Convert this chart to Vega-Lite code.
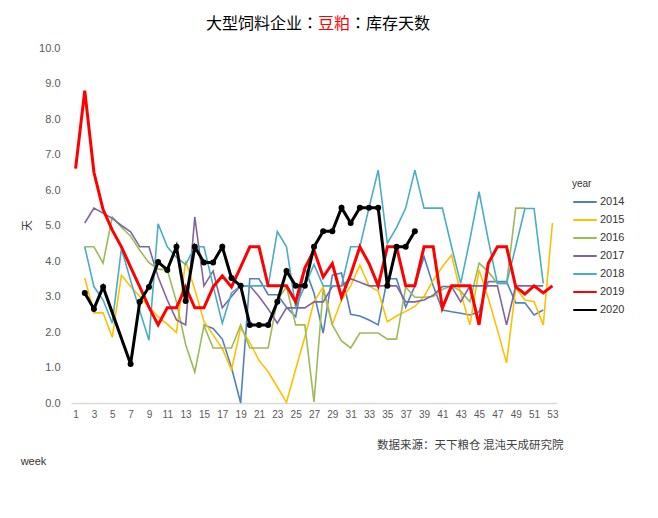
{
"$schema":"https://vega.github.io/schema/vega-lite/v6.json",
"autosize":{"type":"none"},
"width":486,"height":355,
"padding":{"left":71,"top":48,"right":101,"bottom":115},
"background":"white",
"title":{"text":"大型饲料企业：　　：库存天数","subtitle":"\u200b　　豆粕\u200b","font":"Noto Sans CJK TC","fontSize":16,"fontWeight":"normal","color":"#000000","subtitleFont":"Noto Sans CJK TC","subtitleFontSize":16,"subtitleFontWeight":"normal","subtitleColor":"#FF0000","subtitlePadding":-16,"anchor":"middle","offset":10,"dx":4},
"config":{"view":{"stroke":null},"axis":{"grid":false,"ticks":false,"labelFont":"Liberation Sans","labelColor":"#595959"}},
"datasets":{"d":[
{"year":"2014","week":15,"days":2.2},{"year":"2014","week":16,"days":2.1},{"year":"2014","week":17,"days":1.8},{"year":"2014","week":18,"days":1.0},{"year":"2014","week":19,"days":0.0},{"year":"2014","week":20,"days":3.5},{"year":"2014","week":21,"days":3.5},{"year":"2014","week":22,"days":3.05},{"year":"2014","week":23,"days":3.05},{"year":"2014","week":24,"days":2.7},{"year":"2014","week":25,"days":2.43},{"year":"2014","week":26,"days":3.8},{"year":"2014","week":27,"days":3.1},{"year":"2014","week":28,"days":1.97},{"year":"2014","week":29,"days":3.6},{"year":"2014","week":30,"days":3.66},{"year":"2014","week":31,"days":2.5},{"year":"2014","week":32,"days":2.45},{"year":"2014","week":33,"days":2.34},{"year":"2014","week":34,"days":2.2},{"year":"2014","week":35,"days":3.5},{"year":"2014","week":36,"days":3.5},{"year":"2014","week":37,"days":2.7},{"year":"2014","week":38,"days":3.3},{"year":"2014","week":39,"days":4.12},{"year":"2014","week":40,"days":3.3},{"year":"2014","week":41,"days":2.62},{"year":"2014","week":42,"days":2.57},{"year":"2014","week":43,"days":2.53},{"year":"2014","week":44,"days":2.48},{"year":"2014","week":45,"days":2.57},{"year":"2014","week":46,"days":3.42},{"year":"2014","week":47,"days":3.42},{"year":"2014","week":48,"days":3.42},{"year":"2014","week":49,"days":2.82},{"year":"2014","week":50,"days":2.82},{"year":"2014","week":51,"days":2.48},{"year":"2014","week":52,"days":2.62},
{"year":"2015","week":2,"days":3.52},{"year":"2015","week":3,"days":2.54},{"year":"2015","week":4,"days":2.54},{"year":"2015","week":5,"days":1.85},{"year":"2015","week":6,"days":3.6},{"year":"2015","week":7,"days":3.28},{"year":"2015","week":8,"days":3.0},{"year":"2015","week":9,"days":2.71},{"year":"2015","week":10,"days":2.43},{"year":"2015","week":11,"days":2.22},{"year":"2015","week":12,"days":1.98},{"year":"2015","week":13,"days":4.0},{"year":"2015","week":14,"days":3.2},{"year":"2015","week":15,"days":2.3},{"year":"2015","week":16,"days":1.92},{"year":"2015","week":17,"days":1.53},{"year":"2015","week":18,"days":0.93},{"year":"2015","week":19,"days":2.12},{"year":"2015","week":20,"days":1.7},{"year":"2015","week":21,"days":1.2},{"year":"2015","week":22,"days":0.88},{"year":"2015","week":23,"days":0.45},{"year":"2015","week":24,"days":0.02},{"year":"2015","week":25,"days":0.95},{"year":"2015","week":26,"days":1.86},{"year":"2015","week":27,"days":2.85},{"year":"2015","week":28,"days":3.27},{"year":"2015","week":29,"days":2.22},{"year":"2015","week":30,"days":2.9},{"year":"2015","week":31,"days":3.3},{"year":"2015","week":32,"days":3.88},{"year":"2015","week":33,"days":3.3},{"year":"2015","week":34,"days":3.15},{"year":"2015","week":35,"days":2.29},{"year":"2015","week":36,"days":2.45},{"year":"2015","week":37,"days":2.58},{"year":"2015","week":38,"days":2.72},{"year":"2015","week":39,"days":3.0},{"year":"2015","week":40,"days":3.46},{"year":"2015","week":41,"days":3.84},{"year":"2015","week":42,"days":4.17},{"year":"2015","week":43,"days":3.1},{"year":"2015","week":44,"days":2.2},{"year":"2015","week":45,"days":3.75},{"year":"2015","week":46,"days":2.96},{"year":"2015","week":47,"days":2.06},{"year":"2015","week":48,"days":1.13},{"year":"2015","week":49,"days":3.24},{"year":"2015","week":50,"days":2.9},{"year":"2015","week":51,"days":2.85},{"year":"2015","week":52,"days":2.2},{"year":"2015","week":53,"days":5.07},
{"year":"2016","week":2,"days":4.4},{"year":"2016","week":3,"days":4.4},{"year":"2016","week":4,"days":3.94},{"year":"2016","week":5,"days":5.24},{"year":"2016","week":6,"days":4.95},{"year":"2016","week":7,"days":4.7},{"year":"2016","week":8,"days":4.3},{"year":"2016","week":9,"days":3.95},{"year":"2016","week":10,"days":3.77},{"year":"2016","week":11,"days":3.75},{"year":"2016","week":12,"days":2.85},{"year":"2016","week":13,"days":1.65},{"year":"2016","week":14,"days":0.87},{"year":"2016","week":15,"days":2.18},{"year":"2016","week":16,"days":1.55},{"year":"2016","week":17,"days":1.55},{"year":"2016","week":18,"days":1.55},{"year":"2016","week":19,"days":2.2},{"year":"2016","week":20,"days":1.55},{"year":"2016","week":21,"days":1.55},{"year":"2016","week":22,"days":1.55},{"year":"2016","week":23,"days":2.9},{"year":"2016","week":24,"days":3.27},{"year":"2016","week":25,"days":2.2},{"year":"2016","week":26,"days":2.2},{"year":"2016","week":27,"days":0.03},{"year":"2016","week":28,"days":3.2},{"year":"2016","week":29,"days":2.2},{"year":"2016","week":30,"days":1.75},{"year":"2016","week":31,"days":1.55},{"year":"2016","week":32,"days":1.97},{"year":"2016","week":33,"days":1.97},{"year":"2016","week":34,"days":1.97},{"year":"2016","week":35,"days":1.8},{"year":"2016","week":36,"days":1.8},{"year":"2016","week":37,"days":3.26},{"year":"2016","week":38,"days":2.98},{"year":"2016","week":39,"days":2.98},{"year":"2016","week":40,"days":3.0},{"year":"2016","week":41,"days":3.2},{"year":"2016","week":42,"days":3.3},{"year":"2016","week":43,"days":3.15},{"year":"2016","week":44,"days":2.85},{"year":"2016","week":45,"days":3.94},{"year":"2016","week":46,"days":3.7},{"year":"2016","week":47,"days":3.37},{"year":"2016","week":48,"days":3.37},{"year":"2016","week":49,"days":5.49},{"year":"2016","week":50,"days":5.49},
{"year":"2017","week":2,"days":5.07},{"year":"2017","week":3,"days":5.49},{"year":"2017","week":4,"days":5.35},{"year":"2017","week":5,"days":5.2},{"year":"2017","week":6,"days":5.0},{"year":"2017","week":7,"days":4.82},{"year":"2017","week":8,"days":4.4},{"year":"2017","week":9,"days":4.4},{"year":"2017","week":10,"days":3.55},{"year":"2017","week":11,"days":2.9},{"year":"2017","week":12,"days":2.34},{"year":"2017","week":13,"days":2.2},{"year":"2017","week":14,"days":5.24},{"year":"2017","week":15,"days":3.3},{"year":"2017","week":16,"days":3.72},{"year":"2017","week":17,"days":2.68},{"year":"2017","week":18,"days":3.0},{"year":"2017","week":19,"days":3.3},{"year":"2017","week":20,"days":3.3},{"year":"2017","week":21,"days":3.0},{"year":"2017","week":22,"days":2.65},{"year":"2017","week":23,"days":2.25},{"year":"2017","week":24,"days":2.68},{"year":"2017","week":25,"days":2.68},{"year":"2017","week":26,"days":2.68},{"year":"2017","week":27,"days":2.85},{"year":"2017","week":28,"days":2.85},{"year":"2017","week":29,"days":3.28},{"year":"2017","week":30,"days":3.3},{"year":"2017","week":31,"days":3.5},{"year":"2017","week":32,"days":3.4},{"year":"2017","week":33,"days":3.3},{"year":"2017","week":34,"days":3.3},{"year":"2017","week":35,"days":3.3},{"year":"2017","week":36,"days":3.3},{"year":"2017","week":37,"days":2.85},{"year":"2017","week":38,"days":2.85},{"year":"2017","week":39,"days":2.9},{"year":"2017","week":40,"days":3.04},{"year":"2017","week":41,"days":3.28},{"year":"2017","week":42,"days":3.28},{"year":"2017","week":43,"days":2.85},{"year":"2017","week":44,"days":3.3},{"year":"2017","week":45,"days":3.3},{"year":"2017","week":46,"days":3.3},{"year":"2017","week":47,"days":3.3},{"year":"2017","week":48,"days":2.2},{"year":"2017","week":49,"days":3.3},{"year":"2017","week":50,"days":3.3},{"year":"2017","week":51,"days":3.3},{"year":"2017","week":52,"days":3.3},
{"year":"2018","week":2,"days":4.4},{"year":"2018","week":3,"days":3.28},{"year":"2018","week":4,"days":2.9},{"year":"2018","week":5,"days":2.25},{"year":"2018","week":6,"days":4.35},{"year":"2018","week":7,"days":3.45},{"year":"2018","week":8,"days":2.6},{"year":"2018","week":9,"days":1.77},{"year":"2018","week":10,"days":5.05},{"year":"2018","week":11,"days":4.4},{"year":"2018","week":12,"days":4.1},{"year":"2018","week":13,"days":3.9},{"year":"2018","week":14,"days":4.4},{"year":"2018","week":15,"days":4.4},{"year":"2018","week":16,"days":3.3},{"year":"2018","week":17,"days":2.25},{"year":"2018","week":18,"days":3.1},{"year":"2018","week":19,"days":3.3},{"year":"2018","week":20,"days":3.3},{"year":"2018","week":21,"days":3.3},{"year":"2018","week":22,"days":3.3},{"year":"2018","week":23,"days":4.83},{"year":"2018","week":24,"days":4.4},{"year":"2018","week":25,"days":2.7},{"year":"2018","week":26,"days":3.3},{"year":"2018","week":27,"days":3.9},{"year":"2018","week":28,"days":3.3},{"year":"2018","week":29,"days":3.3},{"year":"2018","week":30,"days":3.3},{"year":"2018","week":31,"days":4.4},{"year":"2018","week":32,"days":4.4},{"year":"2018","week":33,"days":5.5},{"year":"2018","week":34,"days":6.56},{"year":"2018","week":35,"days":4.5},{"year":"2018","week":36,"days":4.94},{"year":"2018","week":37,"days":5.49},{"year":"2018","week":38,"days":6.56},{"year":"2018","week":39,"days":5.49},{"year":"2018","week":40,"days":5.49},{"year":"2018","week":41,"days":5.49},{"year":"2018","week":42,"days":4.4},{"year":"2018","week":43,"days":3.37},{"year":"2018","week":44,"days":4.6},{"year":"2018","week":45,"days":5.95},{"year":"2018","week":46,"days":4.6},{"year":"2018","week":47,"days":3.37},{"year":"2018","week":48,"days":3.37},{"year":"2018","week":49,"days":4.4},{"year":"2018","week":50,"days":5.48},{"year":"2018","week":51,"days":5.48},{"year":"2018","week":52,"days":3.37},
{"year":"2019","week":1,"days":6.6},{"year":"2019","week":2,"days":8.8},{"year":"2019","week":3,"days":6.5},{"year":"2019","week":4,"days":5.45},{"year":"2019","week":5,"days":4.87},{"year":"2019","week":6,"days":4.4},{"year":"2019","week":7,"days":3.83},{"year":"2019","week":8,"days":3.27},{"year":"2019","week":9,"days":2.7},{"year":"2019","week":10,"days":2.2},{"year":"2019","week":11,"days":2.68},{"year":"2019","week":12,"days":2.68},{"year":"2019","week":13,"days":3.27},{"year":"2019","week":14,"days":2.68},{"year":"2019","week":15,"days":2.68},{"year":"2019","week":16,"days":3.27},{"year":"2019","week":17,"days":3.58},{"year":"2019","week":18,"days":3.27},{"year":"2019","week":19,"days":3.83},{"year":"2019","week":20,"days":4.4},{"year":"2019","week":21,"days":4.4},{"year":"2019","week":22,"days":3.3},{"year":"2019","week":23,"days":3.3},{"year":"2019","week":24,"days":3.3},{"year":"2019","week":25,"days":2.85},{"year":"2019","week":26,"days":3.8},{"year":"2019","week":27,"days":4.3},{"year":"2019","week":28,"days":3.55},{"year":"2019","week":29,"days":3.93},{"year":"2019","week":30,"days":2.98},{"year":"2019","week":31,"days":3.62},{"year":"2019","week":32,"days":4.4},{"year":"2019","week":33,"days":3.93},{"year":"2019","week":34,"days":3.3},{"year":"2019","week":35,"days":4.4},{"year":"2019","week":36,"days":4.4},{"year":"2019","week":37,"days":3.3},{"year":"2019","week":38,"days":3.3},{"year":"2019","week":39,"days":4.4},{"year":"2019","week":40,"days":4.4},{"year":"2019","week":41,"days":2.68},{"year":"2019","week":42,"days":3.3},{"year":"2019","week":43,"days":3.3},{"year":"2019","week":44,"days":3.3},{"year":"2019","week":45,"days":2.2},{"year":"2019","week":46,"days":3.93},{"year":"2019","week":47,"days":4.4},{"year":"2019","week":48,"days":4.4},{"year":"2019","week":49,"days":3.27},{"year":"2019","week":50,"days":3.07},{"year":"2019","week":51,"days":3.3},{"year":"2019","week":52,"days":3.1},{"year":"2019","week":53,"days":3.3},
{"year":"2020","week":2,"days":3.1},{"year":"2020","week":3,"days":2.65},{"year":"2020","week":4,"days":3.27},{"year":"2020","week":7,"days":1.1},{"year":"2020","week":8,"days":2.85},{"year":"2020","week":9,"days":3.27},{"year":"2020","week":10,"days":3.97},{"year":"2020","week":11,"days":3.75},{"year":"2020","week":12,"days":4.4},{"year":"2020","week":13,"days":2.87},{"year":"2020","week":14,"days":4.4},{"year":"2020","week":15,"days":3.96},{"year":"2020","week":16,"days":3.96},{"year":"2020","week":17,"days":4.4},{"year":"2020","week":18,"days":3.52},{"year":"2020","week":19,"days":3.3},{"year":"2020","week":20,"days":2.2},{"year":"2020","week":21,"days":2.2},{"year":"2020","week":22,"days":2.2},{"year":"2020","week":23,"days":2.85},{"year":"2020","week":24,"days":3.72},{"year":"2020","week":25,"days":3.3},{"year":"2020","week":26,"days":3.3},{"year":"2020","week":27,"days":4.4},{"year":"2020","week":28,"days":4.84},{"year":"2020","week":29,"days":4.84},{"year":"2020","week":30,"days":5.5},{"year":"2020","week":31,"days":5.07},{"year":"2020","week":32,"days":5.5},{"year":"2020","week":33,"days":5.5},{"year":"2020","week":34,"days":5.5},{"year":"2020","week":35,"days":3.3},{"year":"2020","week":36,"days":4.4},{"year":"2020","week":37,"days":4.4},{"year":"2020","week":38,"days":4.84}
]},
"data":{"name":"d"},
"encoding":{
"y":{"field":"days","type":"quantitative","scale":{"domain":[0,10],"nice":false},
"axis":{"domain":false,"values":[0,1,2,3,4,5,6,7,8,9,10],"format":".1f","labelFontSize":11,"labelPadding":11,"title":"天","titleFont":"Noto Sans CJK SC","titleFontSize":11,"titleFontWeight":"normal","titleColor":"#333333","titleX":-44,"titleY":177,"titleAlign":"center","titleBaseline":"middle"}}
},
"layer":[
{"transform":[{"filter":{"field":"year","oneOf":["2014","2015","2016","2017","2018"]}}],
"mark":{"type":"line","strokeWidth":1.6},
"encoding":{
"x":{"field":"week","type":"quantitative","scale":{"domain":[0.5,53.5],"nice":false,"zero":false},
"axis":{"values":[1,3,5,7,9,11,13,15,17,19,21,23,25,27,29,31,33,35,37,39,41,43,45,47,49,51,53],"format":"d","domain":true,"domainColor":"#D9D9D9","domainWidth":1.5,"labelFontSize":10,"labelPadding":6,"title":"数据来源：天下粮仓 混沌天成研究院","titleFont":"Noto Sans CJK SC","titleFontSize":11.5,"titleFontWeight":"normal","titleColor":"#404040","titleX":492,"titleY":42,"titleAlign":"right","titleBaseline":"middle"}},
"color":{"field":"year","type":"nominal","scale":{"domain":["2014","2015","2016","2017","2018","2019","2020"],"range":["#4F81BD","#FFC000","#9BBB59","#8064A2","#4BACC6","#FF0000","#000000"]},
"legend":{"orient":"none","legendX":501,"legendY":131,"padding":0,"title":"year","titleFont":"Liberation Sans","titleFontSize":10,"titleFontWeight":"normal","titleColor":"#333333","titlePadding":0,"symbolType":"stroke","symbolSize":550,"symbolStrokeWidth":2,"labelFont":"Liberation Sans","labelFontSize":11,"labelColor":"#333333","labelOffset":2,"rowPadding":-6.5}}
}},
{"transform":[{"filter":{"field":"year","equal":"2019"}}],
"mark":{"type":"line","strokeWidth":3},
"encoding":{"x":{"field":"week","type":"quantitative","axis":null},"color":{"field":"year","type":"nominal"}}},
{"transform":[{"filter":{"field":"year","equal":"2020"}}],
"mark":{"type":"line","strokeWidth":3},
"encoding":{"x":{"field":"week","type":"quantitative","axis":null},"color":{"field":"year","type":"nominal"}}},
{"transform":[{"filter":{"field":"year","equal":"2020"}}],
"mark":{"type":"point","filled":true,"size":36,"opacity":1},
"encoding":{"x":{"field":"week","type":"quantitative","axis":{"orient":"top","domain":false,"ticks":false,"labels":false,"title":"week","titleFont":"Liberation Sans","titleFontSize":11,"titleFontWeight":"normal","titleColor":"#333333","titleX":-38,"titleY":413,"titleAlign":"center","titleBaseline":"middle"}},"color":{"field":"year","type":"nominal"}}}
],
"resolve":{"axis":{"x":"independent"}}
}
